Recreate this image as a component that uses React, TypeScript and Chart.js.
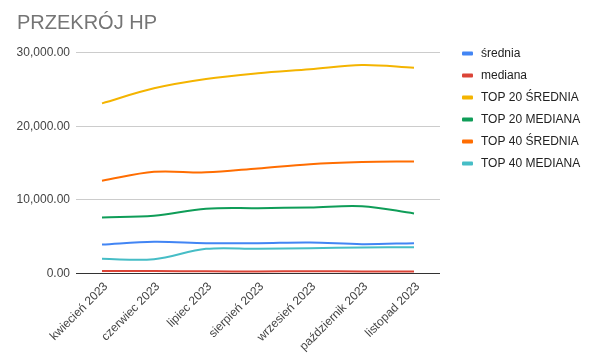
import React, { useEffect, useRef } from "react";
import { Chart, registerables } from "chart.js";

Chart.register(...registerables);

const categories = [
  "kwiecień 2023",
  "czerwiec 2023",
  "lipiec 2023",
  "sierpień 2023",
  "wrzesień 2023",
  "październik 2023",
  "listopad 2023",
];

const seriesNames = [
  "średnia",
  "mediana",
  "TOP 20 ŚREDNIA",
  "TOP 20 MEDIANA",
  "TOP 40 ŚREDNIA",
  "TOP 40 MEDIANA",
];

const srednia = [3940, 4300, 4120, 4120, 4210, 3990, 4120];
const mediana = [330, 340, 290, 280, 300, 280, 280];
const top20Srednia = [23120, 25160, 26420, 27200, 27740, 28330, 27960];
const top20Mediana = [7620, 7840, 8790, 8880, 8970, 9150, 8160];
const top40Srednia = [12600, 13820, 13740, 14280, 14860, 15140, 15230];
const top40Mediana = [1990, 1940, 3350, 3350, 3440, 3530, 3580];

const yTicks = [0, 10000, 20000, 30000];

const seriesValues = [srednia, mediana, top20Srednia, top20Mediana, top40Srednia, top40Mediana];
const seriesColors = ["#4285F4", "#DB4437", "#F4B400", "#0F9D58", "#FF6D01", "#46BDC6"];

const FONT = '"Liberation Sans", Arial, sans-serif';

const sideLegend = {
  id: "sideLegend",
  afterDraw(chart: any) {
    const ctx = chart.ctx;
    ctx.save();
    ctx.font = `12px ${FONT}`;
    ctx.textBaseline = "middle";
    ctx.textAlign = "left";
    chart.data.datasets.forEach((ds: any, i: number) => {
      const y = 53.5 + i * 22;
      ctx.fillStyle = ds.borderColor;
      ctx.beginPath();
      if (ctx.roundRect) ctx.roundRect(462, y - 2, 11, 4, 1);
      else ctx.rect(462, y - 2, 11, 4);
      ctx.fill();
      ctx.fillStyle = "#222222";
      ctx.fillText(ds.label, 481, y);
    });
    ctx.restore();
  },
};

export default function App() {
  const ref = useRef<HTMLCanvasElement | null>(null);

  useEffect(() => {
    if (!ref.current) return;
    const chart = new Chart(ref.current, {
      type: "line",
      data: {
        labels: categories,
        datasets: seriesNames.map((name, i) => ({
          label: name,
          data: seriesValues[i],
          borderColor: seriesColors[i],
          backgroundColor: seriesColors[i],
          borderWidth: 2,
          pointRadius: 0,
          pointHoverRadius: 0,
          tension: 0.35,
          fill: false,
          order: seriesNames.length - i,
        })),
      },
      options: {
        responsive: false,
        animation: false,
        layout: { padding: { left: 17, right: 155, top: 0, bottom: 0 } },
        plugins: {
          legend: { display: false },
          tooltip: { enabled: false },
          title: {
            display: true,
            text: "PRZEKRÓJ HP",
            align: "start",
            color: "#757575",
            font: { family: FONT, size: 20, weight: "normal", lineHeight: 1.2 },
            padding: { top: 11, bottom: 17.7 },
          },
        },
        scales: {
          x: {
            offset: true,
            grid: { display: false, drawTicks: false },
            border: { display: false },
            ticks: {
              autoSkip: false,
              minRotation: 45,
              maxRotation: 45,
              padding: 6,
              labelOffset: 4,
              color: "#444444",
              font: { family: FONT, size: 12 },
            },
            afterFit: (scale: any) => {
              scale.height = 90.5;
            },
          },
          y: {
            min: 0,
            max: 30000,
            afterBuildTicks: (scale: any) => {
              scale.ticks = yTicks.map((v) => ({ value: v }));
            },
            grid: {
              drawTicks: false,
              color: (c: any) => (c.tick && c.tick.value === 0 ? "#333333" : "#CCCCCC"),
              lineWidth: 1,
            },
            border: { display: false },
            ticks: {
              padding: 6,
              color: "#444444",
              font: { family: FONT, size: 12 },
              callback: (v: any) =>
                Number(v).toLocaleString("en-US", { minimumFractionDigits: 2, maximumFractionDigits: 2 }),
            },
            afterFit: (scale: any) => {
              scale.width = 59;
            },
          },
        },
      },
      plugins: [sideLegend],
    });
    return () => chart.destroy();
  }, []);

  return (
    <div style={{ position: "fixed", left: 0, top: 0, width: 595, height: 364, background: "#fff" }}>
      <canvas ref={ref} width={595} height={364} style={{ display: "block" }} />
    </div>
  );
}
